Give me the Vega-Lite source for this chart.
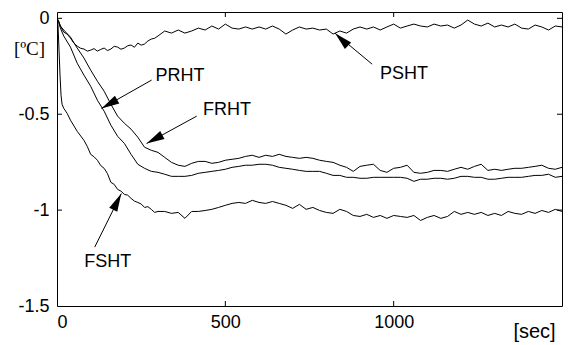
{
  "$schema": "https://vega.github.io/schema/vega-lite/v6.json",
  "width": 505,
  "height": 294,
  "autosize": {"type": "none"},
  "padding": {"left": 57, "top": 12, "right": 24, "bottom": 39},
  "background": "white",
  "config": {
    "view": {"stroke": "black", "strokeWidth": 1},
    "font": "Liberation Sans",
    "axis": {"grid": false, "domain": false, "ticks": false, "labelColor": "black", "labelFont": "Liberation Sans", "labelFontSize": 18, "titleColor": "black", "titleFontWeight": "normal"}
  },
  "datasets": {
    "curves": [
      {"t":0,"PSHT":0,"FRHT":0,"PRHT":0,"FSHT":0},
      {"t":3,"FSHT":-0.035},
      {"t":5,"PSHT":-0.014,"FRHT":-0.019,"PRHT":-0.019},
      {"t":6,"FSHT":-0.166},
      {"t":9,"FSHT":-0.296},
      {"t":10,"PSHT":-0.04,"FRHT":-0.04,"PRHT":-0.051},
      {"t":12,"FSHT":-0.401},
      {"t":15,"FSHT":-0.448},
      {"t":20,"PSHT":-0.072,"FRHT":-0.061,"PRHT":-0.092,"FSHT":-0.469},
      {"t":30,"PSHT":-0.082,"FSHT":-0.495},
      {"t":40,"PSHT":-0.103,"FRHT":-0.098,"PRHT":-0.150,"FSHT":-0.531},
      {"t":50,"PSHT":-0.129},
      {"t":60,"PSHT":-0.145,"FRHT":-0.155,"PRHT":-0.234,"FSHT":-0.589},
      {"t":70,"PSHT":-0.156},
      {"t":80,"PSHT":-0.160,"FRHT":-0.207,"PRHT":-0.296,"FSHT":-0.636},
      {"t":90,"PSHT":-0.171,"FSHT":-0.668},
      {"t":100,"PSHT":-0.166,"FRHT":-0.270,"PRHT":-0.354,"FSHT":-0.709},
      {"t":110,"PSHT":-0.158,"FSHT":-0.722},
      {"t":120,"PSHT":-0.171,"FRHT":-0.328,"PRHT":-0.427,"FSHT":-0.740},
      {"t":130,"PSHT":-0.162,"FSHT":-0.768},
      {"t":140,"PSHT":-0.155,"FRHT":-0.380,"PRHT":-0.484,"FSHT":-0.782},
      {"t":150,"PSHT":-0.168,"FSHT":-0.810},
      {"t":160,"PSHT":-0.160,"FRHT":-0.448,"PRHT":-0.557,"FSHT":-0.855},
      {"t":170,"PSHT":-0.146,"FSHT":-0.866},
      {"t":180,"PSHT":-0.150,"FRHT":-0.510,"PRHT":-0.615,"FSHT":-0.892},
      {"t":190,"PSHT":-0.161,"FSHT":-0.901},
      {"t":200,"PSHT":-0.155,"FRHT":-0.547,"PRHT":-0.652,"FSHT":-0.918},
      {"t":210,"PSHT":-0.143,"FSHT":-0.922},
      {"t":220,"PSHT":-0.139,"FRHT":-0.578,"PRHT":-0.709,"FSHT":-0.939},
      {"t":230,"PSHT":-0.151,"FSHT":-0.953},
      {"t":240,"PSHT":-0.129,"FRHT":-0.620,"PRHT":-0.761,"FSHT":-0.960},
      {"t":250,"PSHT":-0.140,"FSHT":-0.968},
      {"t":260,"PSHT":-0.134,"FRHT":-0.672,"PRHT":-0.782,"FSHT":-0.986},
      {"t":270,"PSHT":-0.118,"FSHT":-0.982},
      {"t":280,"PSHT":-0.108,"FRHT":-0.688,"PRHT":-0.798,"FSHT":-0.996},
      {"t":290,"PSHT":-0.104,"FSHT":-1.012},
      {"t":300,"PSHT":-0.092,"FRHT":-0.699,"PRHT":-0.803,"FSHT":-1.007},
      {"t":320,"PSHT":-0.066,"FRHT":-0.725,"PRHT":-0.813,"FSHT":-1.007},
      {"t":340,"PSHT":-0.077,"FRHT":-0.751,"PRHT":-0.824,"FSHT":-1.017},
      {"t":360,"PSHT":-0.061,"FRHT":-0.766,"PRHT":-0.824,"FSHT":-1.012},
      {"t":380,"PSHT":-0.077,"FRHT":-0.772,"PRHT":-0.824,"FSHT":-1.043},
      {"t":400,"PSHT":-0.066,"FRHT":-0.756,"PRHT":-0.819,"FSHT":-1.007},
      {"t":420,"PSHT":-0.051,"FRHT":-0.746,"PRHT":-0.808,"FSHT":-1.007},
      {"t":440,"PSHT":-0.061,"FRHT":-0.746,"PRHT":-0.803,"FSHT":-1.002},
      {"t":460,"PSHT":-0.040,"FRHT":-0.756,"PRHT":-0.798,"FSHT":-0.996},
      {"t":480,"PSHT":-0.056,"FRHT":-0.751,"PRHT":-0.793,"FSHT":-0.986},
      {"t":500,"PSHT":-0.030,"FRHT":-0.740,"PRHT":-0.787,"FSHT":-0.975},
      {"t":520,"PSHT":-0.051,"FRHT":-0.735,"PRHT":-0.777,"FSHT":-0.965},
      {"t":540,"PSHT":-0.056,"FRHT":-0.730,"PRHT":-0.772,"FSHT":-0.960},
      {"t":560,"PSHT":-0.045,"FRHT":-0.720,"PRHT":-0.766,"FSHT":-0.965},
      {"t":580,"PSHT":-0.056,"FRHT":-0.714,"PRHT":-0.766,"FSHT":-0.949},
      {"t":600,"PSHT":-0.045,"FRHT":-0.725,"PRHT":-0.761,"FSHT":-0.960},
      {"t":620,"PSHT":-0.056,"FRHT":-0.714,"PRHT":-0.761,"FSHT":-0.965},
      {"t":640,"PSHT":-0.040,"FRHT":-0.720,"PRHT":-0.766,"FSHT":-0.955},
      {"t":660,"PSHT":-0.056,"FRHT":-0.709,"PRHT":-0.777,"FSHT":-0.965},
      {"t":680,"PSHT":-0.082,"FRHT":-0.720,"PRHT":-0.782,"FSHT":-0.975},
      {"t":700,"PSHT":-0.061,"FRHT":-0.725,"PRHT":-0.787,"FSHT":-0.991},
      {"t":720,"PSHT":-0.045,"FRHT":-0.730,"PRHT":-0.793,"FSHT":-0.970},
      {"t":740,"PSHT":-0.056,"FRHT":-0.725,"PRHT":-0.798,"FSHT":-0.996},
      {"t":760,"PSHT":-0.051,"FRHT":-0.730,"PRHT":-0.798,"FSHT":-0.986},
      {"t":780,"PSHT":-0.061,"FRHT":-0.740,"PRHT":-0.798,"FSHT":-1.002},
      {"t":800,"PSHT":-0.056,"FRHT":-0.746,"PRHT":-0.808,"FSHT":-1.012},
      {"t":820,"PSHT":-0.082,"FRHT":-0.751,"PRHT":-0.819,"FSHT":-1.017},
      {"t":840,"PSHT":-0.066,"FRHT":-0.766,"PRHT":-0.819,"FSHT":-0.996},
      {"t":860,"PSHT":-0.077,"FRHT":-0.777,"PRHT":-0.829,"FSHT":-1.007},
      {"t":880,"PSHT":-0.056,"FRHT":-0.798,"PRHT":-0.829,"FSHT":-1.028},
      {"t":900,"PSHT":-0.045,"FRHT":-0.772,"PRHT":-0.834,"FSHT":-1.033},
      {"t":920,"PSHT":-0.056,"FRHT":-0.766,"PRHT":-0.834,"FSHT":-1.022},
      {"t":940,"PSHT":-0.045,"FRHT":-0.761,"PRHT":-0.829,"FSHT":-1.038},
      {"t":960,"PSHT":-0.061,"FRHT":-0.793,"PRHT":-0.829,"FSHT":-1.028},
      {"t":980,"PSHT":-0.045,"FRHT":-0.803,"PRHT":-0.829,"FSHT":-1.043},
      {"t":1000,"PSHT":-0.030,"FRHT":-0.782,"PRHT":-0.829,"FSHT":-1.028},
      {"t":1020,"PSHT":-0.051,"FRHT":-0.777,"PRHT":-0.829,"FSHT":-1.033},
      {"t":1040,"PSHT":-0.040,"FRHT":-0.766,"PRHT":-0.834,"FSHT":-1.038},
      {"t":1060,"PSHT":-0.030,"FRHT":-0.803,"PRHT":-0.850,"FSHT":-1.028},
      {"t":1080,"PSHT":-0.040,"FRHT":-0.808,"PRHT":-0.839,"FSHT":-1.054},
      {"t":1100,"PSHT":-0.045,"FRHT":-0.803,"PRHT":-0.839,"FSHT":-1.038},
      {"t":1120,"PSHT":-0.030,"FRHT":-0.793,"PRHT":-0.834,"FSHT":-1.028},
      {"t":1140,"PSHT":-0.040,"FRHT":-0.793,"PRHT":-0.834,"FSHT":-1.043},
      {"t":1160,"PSHT":-0.035,"FRHT":-0.798,"PRHT":-0.839,"FSHT":-1.033},
      {"t":1180,"PSHT":-0.051,"FRHT":-0.787,"PRHT":-0.834,"FSHT":-1.007},
      {"t":1200,"PSHT":-0.035,"FRHT":-0.777,"PRHT":-0.824,"FSHT":-1.022},
      {"t":1220,"PSHT":-0.009,"FRHT":-0.787,"PRHT":-0.824,"FSHT":-1.012},
      {"t":1240,"PSHT":-0.030,"FRHT":-0.772,"PRHT":-0.829,"FSHT":-1.022},
      {"t":1260,"PSHT":-0.040,"FRHT":-0.761,"PRHT":-0.829,"FSHT":-1.012},
      {"t":1280,"PSHT":-0.025,"FRHT":-0.793,"PRHT":-0.839,"FSHT":-1.028},
      {"t":1300,"PSHT":-0.045,"FRHT":-0.787,"PRHT":-0.839,"FSHT":-1.017},
      {"t":1320,"PSHT":-0.035,"FRHT":-0.793,"PRHT":-0.834,"FSHT":-1.028},
      {"t":1340,"PSHT":-0.045,"FRHT":-0.787,"PRHT":-0.829,"FSHT":-1.007},
      {"t":1360,"PSHT":-0.030,"FRHT":-0.782,"PRHT":-0.829,"FSHT":-1.017},
      {"t":1380,"PSHT":-0.051,"FRHT":-0.782,"PRHT":-0.829,"FSHT":-1.022},
      {"t":1400,"PSHT":-0.056,"FRHT":-0.777,"PRHT":-0.824,"FSHT":-1.007},
      {"t":1420,"PSHT":-0.035,"FRHT":-0.772,"PRHT":-0.819,"FSHT":-1.017},
      {"t":1440,"PSHT":-0.045,"FRHT":-0.766,"PRHT":-0.819,"FSHT":-1.002},
      {"t":1460,"PSHT":-0.061,"FRHT":-0.782,"PRHT":-0.813,"FSHT":-1.012},
      {"t":1480,"PSHT":-0.040,"FRHT":-0.787,"PRHT":-0.829,"FSHT":-0.996},
      {"t":1500,"PSHT":-0.045,"FRHT":-0.777,"PRHT":-0.824,"FSHT":-1.007}
    ],
    "arrows": [
      {"name":"PRHT","t":281,"v":-0.322,"t2":132,"v2":-0.470},
      {"name":"FRHT","t":415,"v":-0.510,"t2":266,"v2":-0.653},
      {"name":"FSHT","t":112,"v":-1.193,"t2":191,"v2":-0.914},
      {"name":"PSHT","t":936,"v":-0.239,"t2":826,"v2":-0.078}
    ],
    "labels": [
      {"name":"PRHT","t":365,"v":-0.302},
      {"name":"FRHT","t":505,"v":-0.479},
      {"name":"PSHT","t":1031,"v":-0.291},
      {"name":"FSHT","t":151,"v":-1.273}
    ],
    "xticks": [{"t":500},{"t":1000}],
    "yticks": [{"v":-1},{"v":-0.5},{"v":0}]
  },
  "resolve": {"axis": {"x": "independent", "y": "independent"}},
  "layer": [
    {
      "data": {"name": "curves"},
      "transform": [
        {"fold": ["PSHT", "FRHT", "PRHT", "FSHT"], "as": ["series", "value"]},
        {"filter": "isValid(datum.value)"}
      ],
      "mark": {"type": "line", "color": "black", "strokeWidth": 1, "clip": true},
      "encoding": {
        "x": {"field": "t", "type": "quantitative", "scale": {"domain": [0, 1500], "nice": false, "zero": false},
              "axis": {"orient": "bottom", "values": [0, 500, 1000], "format": "d", "labelPadding": 7, "title": "[sec]", "titleFont": "Liberation Sans", "titleFontSize": 20, "titleX": 477, "titleY": 25, "titleAlign": "center", "titleBaseline": "middle", "titleAnchor": null}},
        "y": {"field": "value", "type": "quantitative", "scale": {"domain": [-1.5, 0.033], "nice": false, "zero": false},
              "axis": {"orient": "left", "values": [-1.5, -1, -0.5, 0], "format": "~g", "labelPadding": 8, "labelExpr": "replace(datum.label, '\u2212', '-')", "title": "[ºC]", "titleFont": "Liberation Serif", "titleFontSize": 19, "titleAngle": 0, "titleX": -28, "titleY": 36, "titleAlign": "center", "titleBaseline": "middle", "titleAnchor": null}},
        "detail": {"field": "series"}
      }
    },
    {
      "data": {"name": "xticks"},
      "mark": {"type": "rule", "color": "black", "strokeWidth": 1, "y2Offset": -5},
      "encoding": {
        "x": {"field": "t", "type": "quantitative", "axis": null},
        "y": {"datum": -1.5, "type": "quantitative", "axis": null},
        "y2": {"datum": -1.5}
      }
    },
    {
      "data": {"name": "xticks"},
      "mark": {"type": "rule", "color": "black", "strokeWidth": 1, "y2Offset": 5},
      "encoding": {
        "x": {"field": "t", "type": "quantitative", "axis": null},
        "y": {"datum": 0.033, "type": "quantitative", "axis": null},
        "y2": {"datum": 0.033}
      }
    },
    {
      "data": {"name": "yticks"},
      "mark": {"type": "rule", "color": "black", "strokeWidth": 1, "x2Offset": 5},
      "encoding": {
        "y": {"field": "v", "type": "quantitative", "axis": null},
        "x": {"datum": 0, "type": "quantitative", "axis": null},
        "x2": {"datum": 0}
      }
    },
    {
      "data": {"name": "yticks"},
      "mark": {"type": "rule", "color": "black", "strokeWidth": 1, "x2Offset": -5},
      "encoding": {
        "y": {"field": "v", "type": "quantitative", "axis": null},
        "x": {"datum": 1500, "type": "quantitative", "axis": null},
        "x2": {"datum": 1500}
      }
    },
    {
      "data": {"name": "arrows"},
      "mark": {"type": "rule", "color": "black", "strokeWidth": 1},
      "encoding": {
        "x": {"field": "t", "type": "quantitative", "axis": null},
        "y": {"field": "v", "type": "quantitative", "axis": null},
        "x2": {"field": "t2"},
        "y2": {"field": "v2"}
      }
    },
    {
      "data": {"name": "arrows"},
      "transform": [{"filter": "datum.name == 'PRHT'"}],
      "mark": {"type": "point", "shape": "M0,0L0.5,2L-0.5,2Z", "size": 324, "filled": true, "color": "black", "opacity": 1, "angle": 240.5},
      "encoding": {"x": {"field": "t2", "type": "quantitative", "axis": null}, "y": {"field": "v2", "type": "quantitative", "axis": null}}
    },
    {
      "data": {"name": "arrows"},
      "transform": [{"filter": "datum.name == 'FRHT'"}],
      "mark": {"type": "point", "shape": "M0,0L0.5,2L-0.5,2Z", "size": 324, "filled": true, "color": "black", "opacity": 1, "angle": 241.4},
      "encoding": {"x": {"field": "t2", "type": "quantitative", "axis": null}, "y": {"field": "v2", "type": "quantitative", "axis": null}}
    },
    {
      "data": {"name": "arrows"},
      "transform": [{"filter": "datum.name == 'FSHT'"}],
      "mark": {"type": "point", "shape": "M0,0L0.5,2L-0.5,2Z", "size": 324, "filled": true, "color": "black", "opacity": 1, "angle": 26.6},
      "encoding": {"x": {"field": "t2", "type": "quantitative", "axis": null}, "y": {"field": "v2", "type": "quantitative", "axis": null}}
    },
    {
      "data": {"name": "arrows"},
      "transform": [{"filter": "datum.name == 'PSHT'"}],
      "mark": {"type": "point", "shape": "M0,0L0.5,2L-0.5,2Z", "size": 324, "filled": true, "color": "black", "opacity": 1, "angle": 314},
      "encoding": {"x": {"field": "t2", "type": "quantitative", "axis": null}, "y": {"field": "v2", "type": "quantitative", "axis": null}}
    },
    {
      "data": {"name": "labels"},
      "mark": {"type": "text", "font": "Liberation Sans", "fontSize": 18, "color": "black", "align": "center", "baseline": "middle"},
      "encoding": {
        "x": {"field": "t", "type": "quantitative", "axis": null},
        "y": {"field": "v", "type": "quantitative", "axis": null},
        "text": {"field": "name"}
      }
    }
  ]
}
